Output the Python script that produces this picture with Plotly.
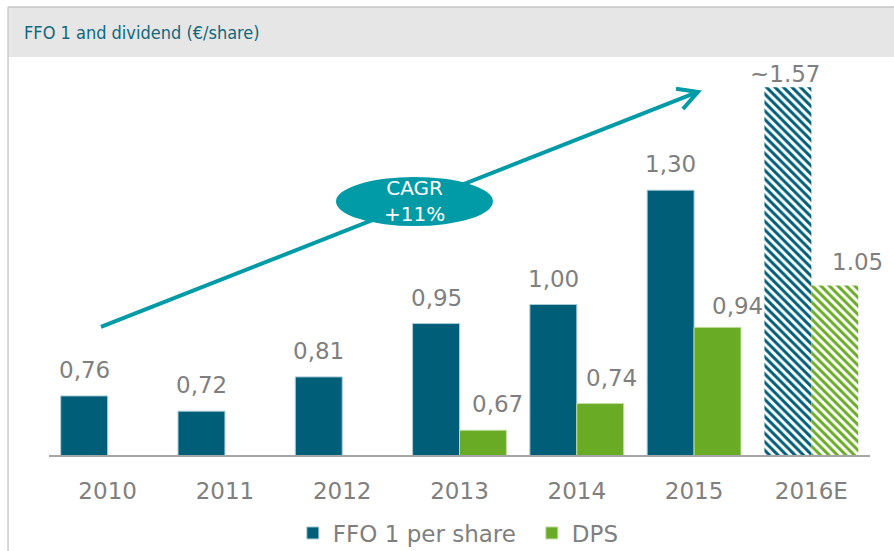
import plotly.graph_objects as go

years = ["2010", "2011", "2012", "2013", "2014", "2015", "2016E"]
ffo = [0.76, 0.72, 0.81, 0.95, 1.00, 1.30, 1.57]
dps = [None, None, None, 0.67, 0.74, 0.94, 1.05]
ffo_labels = ["0,76", "0,72", "0,81", "0,95", "1,00", "1,30", "~1.57"]
dps_labels = [None, None, None, "0,67", "0,74", "0,94", "1.05"]
cagr_text = "CAGR<br>+11%"
title_text = "FFO 1 and dividend (€/share)"

# style
FFO_C = "#005e78"
DPS_C = "#6aab26"
TEAL = "#009ba7"
GRAY = "#7f7f7f"
LABEL_FONT = dict(family="DejaVu Sans, Verdana, sans-serif", size=23, color=GRAY)
ffo_dx = [0, 0, 0, 0, 0, 0, -3]
ffo_dy = [0, 0, 0, 0, 0, 0, -13]
dps_dx = [0, 0, 0, 15, 11, 20, 23]
dps_dy = [0, 0, 0, 0, 0, -5, -3]
patterns = ["", "", "", "", "", "", "\\"]
line_w = [1, 1, 1, 1, 1, 1, 0]

fig = go.Figure()
fig.add_trace(go.Bar(
    name="FFO 1 per share", x=years, y=ffo,
    marker=dict(color=FFO_C, line=dict(color="#a9cbd6", width=line_w),
                pattern=dict(shape=patterns, fillmode="replace", size=6, solidity=0.5)),
    hoverinfo="skip",
))
fig.add_trace(go.Bar(
    name="DPS", x=years, y=dps,
    marker=dict(color=DPS_C, line=dict(color="#c2dea3", width=line_w),
                pattern=dict(shape=patterns, fillmode="replace", size=6, solidity=0.5)),
    hoverinfo="skip",
))

annotations = []
for i, (v, t) in enumerate(zip(ffo, ffo_labels)):
    annotations.append(dict(x=i - 0.2, y=v, xref="x", yref="y", text=t, showarrow=False,
                            xanchor="center", yanchor="bottom", yshift=11 + ffo_dy[i],
                            xshift=ffo_dx[i], font=LABEL_FONT))
for i, (v, t) in enumerate(zip(dps, dps_labels)):
    if v is None:
        continue
    annotations.append(dict(x=i + 0.2, y=v, xref="x", yref="y", text=t, showarrow=False,
                            xanchor="center", yanchor="bottom", yshift=11 + dps_dy[i],
                            xshift=dps_dx[i], font=LABEL_FONT))

# CAGR text
annotations.append(dict(x=2.62, y=1.272, xref="x", yref="y", text=cagr_text, showarrow=False,
                        xanchor="center", yanchor="middle",
                        font=dict(family="DejaVu Sans, Verdana, sans-serif", size=20, color="white")))
# title
annotations.append(dict(x=-0.0329, y=1.0628, xref="paper", yref="paper", text=title_text,
                        showarrow=False, xanchor="left", yanchor="middle",
                        font=dict(family="DejaVu Sans Condensed, sans-serif",
                                  size=18, color="#11687d")))

shapes = [
    # title band
    dict(type="rect", xref="paper", yref="paper", x0=-0.0499, x1=1.03, y0=1.0, y1=1.1256,
         fillcolor="#e6e6e6", line=dict(width=0), layer="below"),
    # frame lines
    dict(type="line", xref="paper", yref="paper", x0=-0.0499, x1=1.03, y0=1.1256, y1=1.1256,
         line=dict(color="#c4c4c4", width=1.5)),
    dict(type="line", xref="paper", yref="paper", x0=-0.0499, x1=-0.0499, y0=1.1256, y1=-0.25,
         line=dict(color="#cccccc", width=1.5)),
    # arrow
    dict(type="line", xref="x", yref="y", x0=-0.057, y0=0.941, x1=5.033, y1=1.558,
         line=dict(color=TEAL, width=4)),
    dict(type="path", xref="x", yref="y",
         path="M 4.846 1.566 L 5.033 1.558 L 4.905 1.513",
         line=dict(color=TEAL, width=4)),
    # ellipse
    dict(type="circle", xref="x", yref="y", x0=1.947, x1=3.285, y0=1.206, y1=1.3347,
         fillcolor=TEAL, line=dict(width=0)),
]

fig.update_layout(
    width=894, height=551,
    margin=dict(l=49, r=24, t=57, b=96, autoexpand=False),
    paper_bgcolor="white", plot_bgcolor="white",
    barmode="group", bargap=0.2, bargroupgap=0,
    showlegend=True,
    legend=dict(orientation="h", x=0.297, xanchor="left",
                y=-0.196, yanchor="middle", entrywidth=194, entrywidthmode="pixels",
                font=dict(family="DejaVu Sans, Verdana, sans-serif", size=23, color=GRAY),
                bgcolor="rgba(0,0,0,0)"),
    xaxis=dict(showline=True, linecolor="#a6a6a6", linewidth=2, showgrid=False, ticks="",
               ticklabelstandoff=14, zeroline=False, range=[-0.5, 6.5],
               tickfont=dict(family="DejaVu Sans, Verdana, sans-serif", size=23, color=GRAY)),
    yaxis=dict(visible=False, range=[0.605, 1.6496], showgrid=False, zeroline=False),
    annotations=annotations,
    shapes=shapes,
)

fig.write_html("out.html", config={"displayModeBar": False},
               post_script="document.body.style.margin='0';document.body.style.overflow='hidden';")
